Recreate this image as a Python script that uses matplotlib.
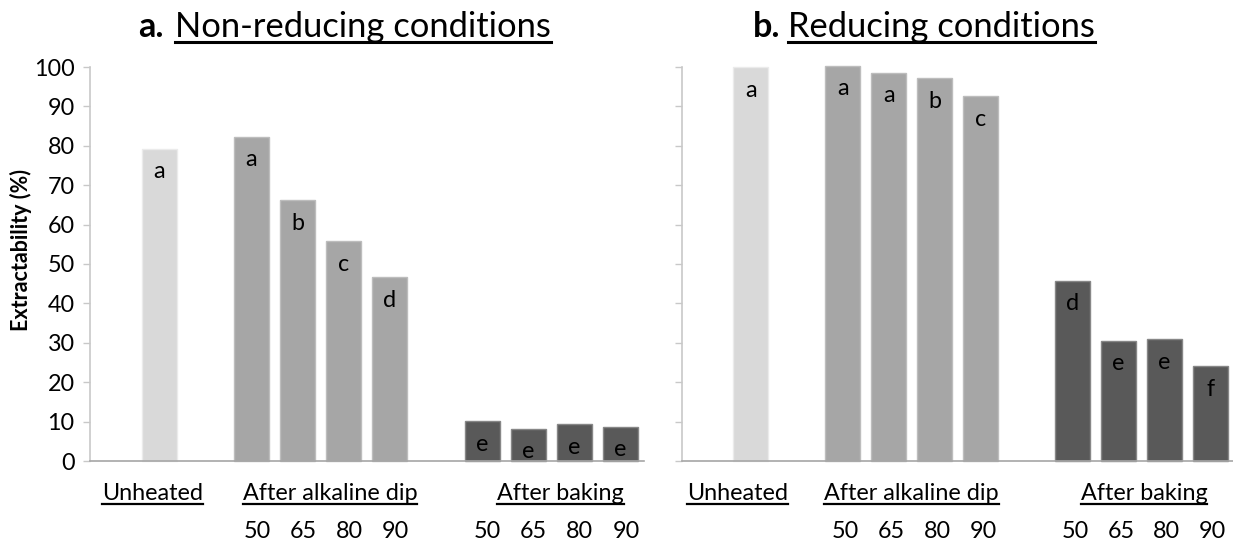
import matplotlib
matplotlib.use("Agg")
import matplotlib.pyplot as plt
from matplotlib.transforms import blended_transform_factory
from matplotlib.lines import Line2D

plt.rcParams['font.family'] = ['Lato', 'DejaVu Sans']

# ---------------- data ----------------
group_labels = ['Unheated', 'After alkaline dip', 'After baking']
temp_labels = ['50', '65', '80', '90']
panel_prefix = ['a.', 'b.']
panel_titles = ['Non-reducing conditions', 'Reducing conditions']
y_label = 'Extractability (%)'
y_ticks = [0, 10, 20, 30, 40, 50, 60, 70, 80, 90, 100]

nonred_unheated = 79.2
nonred_dip = [82.3, 66.2, 55.8, 46.7]
nonred_bake = [10.1, 8.2, 9.3, 8.7]
nonred_unheated_letter = 'a'
nonred_dip_letters = ['a', 'b', 'c', 'd']
nonred_bake_letters = ['e', 'e', 'e', 'e']

red_unheated = 99.9
red_dip = [100.3, 98.6, 97.1, 92.6]
red_bake = [45.8, 30.5, 30.9, 24.0]
red_unheated_letter = 'a'
red_dip_letters = ['a', 'a', 'b', 'c']
red_bake_letters = ['d', 'e', 'e', 'f']

# ---------------- style ----------------
c_unheated, e_unheated = '#D9D9D9', '#EBEBEB'
c_dip, e_dip = '#A6A6A6', '#BDBDBD'
c_bake, e_bake = '#595959', '#878787'

W, H = 1233, 550
fig = plt.figure(figsize=(W / 100, H / 100), dpi=100)

def fx(px):
    return px / W

def fy(py):
    return (H - py) / H

ax_l = fig.add_axes([fx(90), fy(461), fx(643.5 - 90), (461 - 67) / H])
ax_r = fig.add_axes([fx(682), fy(461), fx(1233.5 - 682), (461 - 67) / H])

pos_unheated = [1]
pos_dip = [3, 4, 5, 6]
pos_bake = [8, 9, 10, 11]
bw = 35 / 46

FS = 16.8
underlines = []

def draw_panel(ax, unheated, dip, bake, l_un, l_dip, l_bake, show_labels,
               grp_x, num_offset):
    ax.bar(pos_unheated, [unheated], width=bw, color=c_unheated,
           edgecolor=e_unheated, linewidth=1.0, clip_on=False, zorder=2)
    ax.bar(pos_dip, dip, width=bw, color=c_dip, edgecolor=e_dip,
           linewidth=1.0, clip_on=False, zorder=2)
    ax.bar(pos_bake, bake, width=bw, color=c_bake, edgecolor=e_bake,
           linewidth=1.0, clip_on=False, zorder=2)
    for p, v, t in zip(pos_unheated + pos_dip + pos_bake,
                       [unheated] + list(dip) + list(bake),
                       [l_un] + list(l_dip) + list(l_bake)):
        ax.annotate(t, (p, v), xytext=(0, -23 * 0.72), textcoords='offset points',
                    ha='center', va='center', fontsize=FS, color='black',
                    zorder=3, annotation_clip=False)
    ax.set_xlim(-0.5, 11.5)
    ax.set_ylim(0, 100)
    ax.set_yticks(y_ticks)
    ax.set_xticks([])
    for s in ['top', 'right']:
        ax.spines[s].set_visible(False)
    ax.spines['left'].set_color('#C8C8C8')
    ax.spines['left'].set_linewidth(1.2)
    ax.spines['bottom'].set_color('#A6A6A6')
    ax.spines['bottom'].set_linewidth(1.2)
    ax.tick_params(axis='y', direction='out', length=5, width=1.0,
                   color='#C8C8C8', labelsize=FS, pad=6,
                   labelleft=show_labels)
    ax.set_facecolor('none')
    tr = blended_transform_factory(ax.transData, fig.transFigure)
    for gx, g in zip(grp_x, group_labels):
        t = ax.text(gx, fy(500), g, transform=tr, ha='center', va='baseline',
                    fontsize=FS, color='black')
        underlines.append((t, 4, 1.6))
    for p, tl in zip(pos_dip + pos_bake, temp_labels + temp_labels):
        ax.text(p + num_offset, fy(538), tl, transform=tr, ha='center',
                va='baseline', fontsize=FS, color='black')

draw_panel(ax_l, nonred_unheated, nonred_dip, nonred_bake,
           nonred_unheated_letter, nonred_dip_letters, nonred_bake_letters,
           True, [0.85, 4.7, 9.7], 0.12)
draw_panel(ax_r, red_unheated, red_dip, red_bake,
           red_unheated_letter, red_dip_letters, red_bake_letters,
           False, [0.7, 4.5, 9.55], 0.05)

fig.text(fx(21), fy(250), y_label, rotation=90, ha='center', va='center',
         fontsize=15.5, fontweight='bold', color='black')

# titles
for px_pre, px_title, pre, title in [(138, 175, panel_prefix[0], panel_titles[0]),
                                     (753, 788, panel_prefix[1], panel_titles[1])]:
    fig.text(fx(px_pre), fy(37), pre, ha='left', va='baseline', fontsize=24.5,
             fontweight='bold', color='black')
    t = fig.text(fx(px_title), fy(37), title, ha='left', va='baseline',
                 fontsize=24.8, color='black')
    underlines.append((t, 5, 2.2))

fig.canvas.draw()
renderer = fig.canvas.get_renderer()
for t, off, lw in underlines:
    bb = t.get_window_extent(renderer)
    xy = t.get_transform().transform(t.get_position())
    yb = xy[1] - off
    fig.add_artist(Line2D([bb.x0 / W, bb.x1 / W], [yb / H, yb / H],
                          transform=fig.transFigure, color='black', linewidth=lw))

fig.savefig('out.png', dpi=100, facecolor='white')
